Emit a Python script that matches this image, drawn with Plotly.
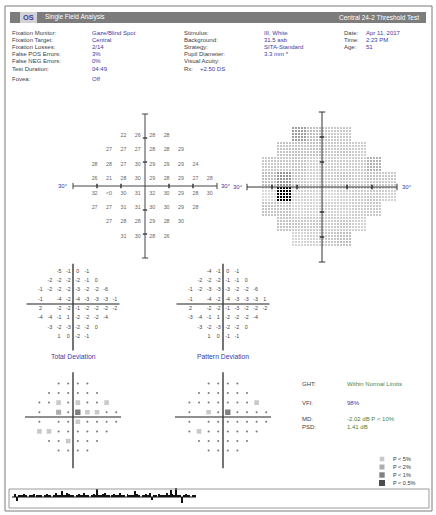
import plotly.graph_objects as go

W, H = 436, 515

# ---------------- data ----------------
GRID_Y = [21, 15, 9, 3, -3, -9, -15, -21]
GRID_X = [
    [-9, -3, 3, 9],
    [-15, -9, -3, 3, 9, 15],
    [-21, -15, -9, -3, 3, 9, 15, 21],
    [-21, -15, -9, -3, 3, 9, 15, 21, 27],
    [-21, -15, -9, -3, 3, 9, 15, 21, 27],
    [-21, -15, -9, -3, 3, 9, 15, 21],
    [-15, -9, -3, 3, 9, 15],
    [-9, -3, 3, 9],
]
THRESHOLD = [
    ["22", "26", "28", "28"],
    ["27", "27", "27", "28", "28", "29"],
    ["28", "28", "27", "30", "29", "29", "29", "24"],
    ["26", "21", "28", "30", "29", "28", "29", "27", "28"],
    ["32", "<0", "30", "31", "32", "30", "29", "28", "30"],
    ["27", "27", "31", "31", "30", "30", "29", "28"],
    ["27", "28", "28", "29", "28", "30"],
    ["31", "30", "28", "26"],
]
TOTAL_DEV = [
    [-5, -1, 0, -1],
    [-2, -2, -2, -2, -1, 0],
    [-1, -2, -2, -2, -3, -2, -2, -6],
    [-1, None, -4, -2, -4, -3, -3, -3, -1],
    [2, None, -2, -2, -1, -2, -2, -2, -2],
    [-4, -4, -1, 1, -2, -2, -2, -4],
    [-3, -2, -3, -2, -2, 0],
    [1, 0, -2, -1],
]
PATTERN_DEV = [
    [-4, -1, 0, -1],
    [-2, -2, -2, -1, -1, 0],
    [-1, -2, -3, -3, -3, -2, -2, -6],
    [-1, None, -4, -2, -4, -3, -3, -3, 1],
    [2, None, -2, -2, -1, -3, -2, -2, -2],
    [-3, -4, -1, 1, -2, -2, -2, -4],
    [-3, -2, -3, -2, -2, 0],
    [1, 0, -1, -1],
]
# 0 = normal, 1 = P<5%, 2 = P<2%, 3 = P<1%, 4 = P<0.5%, None = blind spot
TOTAL_PROB = [
    [0, 0, 0, 0],
    [0, 0, 0, 0, 0, 0],
    [0, 0, 1, 0, 1, 0, 0, 1],
    [0, None, 2, 0, 3, 1, 1, 0, 0],
    [0, None, 0, 0, 1, 0, 0, 0, 0],
    [1, 1, 0, 0, 0, 0, 0, 0],
    [0, 0, 1, 0, 0, 0],
    [0, 0, 0, 0],
]
PATTERN_PROB = [
    [0, 0, 0, 0],
    [0, 0, 0, 0, 0, 0],
    [0, 0, 0, 0, 0, 0, 0, 1],
    [0, None, 1, 0, 3, 0, 0, 0, 0],
    [0, None, 0, 0, 0, 0, 0, 0, 0],
    [0, 1, 0, 0, 0, 0, 0, 0],
    [0, 0, 0, 0, 0, 0],
    [0, 0, 0, 0],
]
PROB_LEVELS = [1, 2, 3, 4]
PROB_LABELS = ["P < 5%", "P < 2%", "P < 1%", "P < 0.5%"]
GAZE = [0, 3, -4, 2, 1, 2, 3, 1, 0, 2, 1, 3, 0, 2, 1, 2, 0, 1, 3, 2,
        1, 0, 2, 4, 1, 2, 5, 2, 1, 4, 3, 1, 2, 0, 1, 3, 2, 1, 4, 2,
        1, 0, 2, 3, 1, 7, 2, 1, 3, 4, 2, 1, 0, 2, 3, 1, 2, 4, 1, 2,
        0, 3, 2, 1, 2, 5, 3, 1, 0, 2, 1, 3, 2, 4, -3, 1, 2, 0, 3, 1,
        2, 1, 4, 2, 6, 3, 2, 8, 1, 2, -5, 1, 3, 2, 1, 0, 2, 1]

INFO_LEFT = [("Fixation Monitor:", "Gaze/Blind Spot"), ("Fixation Target:", "Central"),
             ("Fixation Losses:", "2/14"), ("False POS Errors:", "3%"),
             ("False NEG Errors:", "0%"), ("Test Duration:", "04:49"), ("Fovea:", "Off")]
INFO_MID = [("Stimulus:", "III, White"), ("Background:", "31.5 asb"), ("Strategy:", "SITA-Standard"),
            ("Pupil Diameter:", "3.3 mm *"), ("Visual Acuity:", ""), ("Rx:", "+2.50 DS")]
INFO_RIGHT = [("Date:", "Apr 11, 2017"), ("Time:", "2:23 PM"), ("Age:", "51")]
GLOBAL_IDX = [("GHT:", "Within Normal Limits"), ("VFI:", "98%"),
              ("MD:", "-2.02 dB P < 10%"), ("PSD:", "1.41 dB")]

# ---------------- helpers ----------------
BLUE = "#3b3ba6"
LABEL = "#404040"
GREEN = "#4d7f45"
FONT = "Liberation Sans, Arial, sans-serif"
SYMBOL_COLOR = {1: "#b2b2b2", 2: "#8a8a8a", 3: "#4a4a4a", 4: "#000000"}
SYMBOL_SIZE = {1: 4.6, 2: 5.0, 3: 5.4, 4: 6.0}


def flatten(rows):
    xs, ys, vs = [], [], []
    for yy, xr, vr in zip(GRID_Y, GRID_X, rows):
        for xx, v in zip(xr, vr):
            xs.append(xx)
            ys.append(yy)
            vs.append(v)
    return xs, ys, vs


def px(x):
    return x / W


def py(y):
    return 1 - y / H


PANELS = {  # axis index, centre x, centre y (px), px per degree, half range (deg)
    "thr": (1, 145, 186, 2.4, 33),
    "gray": (2, 322, 187, 2.5, 33),
    "td": (3, 73, 304, 1.55, 33),
    "pd": (4, 223, 304, 1.55, 33),
    "tdp": (5, 73, 417, 1.6, 33),
    "pdp": (6, 223, 417, 1.6, 33),
}


def refs(n):
    return ("x" if n == 1 else f"x{n}", "y" if n == 1 else f"y{n}")


fig = go.Figure()
layout_axes = {}
for key, (n, cx, cy, s, half) in PANELS.items():
    hx = s * half
    xa = "xaxis" if n == 1 else f"xaxis{n}"
    ya = "yaxis" if n == 1 else f"yaxis{n}"
    xr, yr = refs(n)
    layout_axes[xa] = dict(domain=[px(cx - hx), px(cx + hx)], range=[-half, half], visible=False,
                           fixedrange=True, anchor=yr)
    layout_axes[ya] = dict(domain=[py(cy + hx), py(cy - hx)], range=[-half, half], visible=False,
                           fixedrange=True, anchor=xr)
# gaze tracking axis
layout_axes["xaxis7"] = dict(domain=[px(12), px(196)], range=[-0.5, len(GAZE) - 0.5], visible=False,
                             fixedrange=True, anchor="y7")
layout_axes["yaxis7"] = dict(domain=[py(507), py(487)], range=[-9, 9], visible=False,
                             fixedrange=True, anchor="x7")
# legend of probability symbols
layout_axes["xaxis8"] = dict(domain=[px(377), px(387)], range=[-1, 1], visible=False,
                             fixedrange=True, anchor="y8")
layout_axes["yaxis8"] = dict(domain=[py(487), py(455)], range=[4.5, 0.5], visible=False,
                             fixedrange=True, anchor="x8")

shapes = []
annotations = []


def note(x, y, text, size, color, xanchor="center", family=FONT, xref="paper", yref="paper", xshift=0):
    annotations.append(dict(xref=xref, yref=yref, x=x, y=y, text=text, showarrow=False,
                            xanchor=xanchor, yanchor="middle", xshift=xshift,
                            font=dict(size=size, color=color, family=family)))


def cross(n, ch, wh, cv, wv, top=30, bottom=30, ticks=False, lab_l=3, lab_r=3):
    xr, yr = refs(n)
    shapes.append(dict(type="line", xref=xr, yref=yr, x0=-30, x1=30, y0=0, y1=0,
                       line=dict(color=ch, width=wh)))
    shapes.append(dict(type="line", xref=xr, yref=yr, x0=0, x1=0, y0=-bottom, y1=top,
                       line=dict(color=cv, width=wv)))
    if ticks:
        for t in (-20, -10, 10, 20):
            shapes.append(dict(type="line", xref=xr, yref=yr, x0=t, x1=t, y0=-0.9, y1=0.9,
                               line=dict(color=ch, width=1.6)))
            shapes.append(dict(type="line", xref=xr, yref=yr, x0=-0.9, x1=0.9, y0=t, y1=t,
                               line=dict(color=cv, width=1.6)))
        for t in (-30, 30):
            shapes.append(dict(type="line", xref=xr, yref=yr, x0=t, x1=t, y0=-1.3, y1=1.3,
                               line=dict(color=ch, width=1)))
        for t in (-bottom, top):
            shapes.append(dict(type="line", xref=xr, yref=yr, x0=-1.3, x1=1.3, y0=t, y1=t,
                               line=dict(color=cv, width=1)))
        note(-30, 0, "30°", 6, BLUE, xanchor="right", xref=xr, yref=yr, xshift=-lab_l)
        note(30, 0, "30°", 6, BLUE, xanchor="left", xref=xr, yref=yr, xshift=lab_r)


# ---------------- grayscale ----------------
gx, gy, gv = flatten(THRESHOLD)
SUB = 5
step = 6 / SUB
ncol = int(round((27 + 3 - (-21 - 3)) / step))
nrow = int(round((21 + 3 - (-21 - 3)) / step))
xs_g = [-24 + step / 2 + step * i for i in range(ncol)]
ys_g = [-24 + step / 2 + step * j for j in range(nrow)]
zg = [[None] * ncol for _ in range(nrow)]
for xx, yy, v in zip(gx, gy, gv):
    val = 0.0 if v.startswith("<") else float(v)
    c0 = int(round((xx - 3 + 24) / step))
    r0 = int(round((yy - 3 + 24) / step))
    for i in range(SUB):
        for j in range(SUB):
            zg[r0 + j][c0 + i] = val
fig.add_trace(go.Heatmap(
    x=xs_g, y=ys_g, z=zg, xaxis="x2", yaxis="y2", zmin=0, zmax=35, showscale=False,
    xgap=1, ygap=1, hoverinfo="skip",
    colorscale=[[0, "#000000"], [0.3, "#333333"], [0.6, "#939393"], [0.69, "#b4b4b4"],
                [0.77, "#c4c4c4"], [0.83, "#cdcdcd"], [0.89, "#d6d6d6"], [1, "#e6e6e6"]]))
cross(2, "#333", 1, "#333", 1, ticks=True, lab_l=2)

# ---------------- threshold numbers ----------------
fig.add_trace(go.Scatter(x=gx, y=gy, text=gv, mode="text", xaxis="x", yaxis="y",
                         textfont=dict(size=5.3, color="#666", family=FONT), hoverinfo="skip"))
cross(1, "#444", 1, "#444", 1, ticks=True, lab_r=2)

# ---------------- deviation numbers ----------------
for rows, n in ((TOTAL_DEV, 3), (PATTERN_DEV, 4)):
    xs, ys, vs = flatten(rows)
    keep = [(a, b, c) for a, b, c in zip(xs, ys, vs) if c is not None]
    xr, yr = refs(n)
    fig.add_trace(go.Scatter(x=[k[0] for k in keep], y=[k[1] for k in keep],
                             text=[str(k[2]) for k in keep], mode="text", xaxis=xr, yaxis=yr,
                             textfont=dict(size=5.3, color="#444", family=FONT), hoverinfo="skip"))
    cross(n, "#8f8f8f", 2.2, "#3a3a3a", 1.4, top=26, bottom=30)

note(px(73), py(356), "Total Deviation", 6.8, BLUE)
note(px(223), py(356), "Pattern Deviation", 6.8, BLUE)

# ---------------- probability plots ----------------
for rows, n in ((TOTAL_PROB, 5), (PATTERN_PROB, 6)):
    xs, ys, vs = flatten(rows)
    xr, yr = refs(n)
    nx = [a for a, c in zip(xs, vs) if c == 0]
    ny = [b for b, c in zip(ys, vs) if c == 0]
    fig.add_trace(go.Scatter(x=nx, y=ny, mode="markers", xaxis=xr, yaxis=yr,
                             marker=dict(size=2, color="#777"), hoverinfo="skip"))
    ax = [a for a, c in zip(xs, vs) if c]
    ay = [b for b, c in zip(ys, vs) if c]
    ac = [SYMBOL_COLOR[c] for c in vs if c]
    az = [SYMBOL_SIZE[c] for c in vs if c]
    fig.add_trace(go.Scatter(x=ax, y=ay, mode="markers", xaxis=xr, yaxis=yr,
                             marker=dict(symbol="square", size=az, color=ac, line=dict(width=0)),
                             hoverinfo="skip"))
    cross(n, "#8f8f8f", 2.2, "#3a3a3a", 1.4, top=28, bottom=32)

# legend of probability symbols
fig.add_trace(go.Scatter(x=[0] * len(PROB_LEVELS), y=PROB_LEVELS, mode="markers", xaxis="x8", yaxis="y8",
                         marker=dict(symbol="square", size=[SYMBOL_SIZE[c] for c in PROB_LEVELS],
                                     color=[SYMBOL_COLOR[c] for c in PROB_LEVELS], line=dict(width=0)),
                         hoverinfo="skip"))
for lvl, lab in zip(PROB_LEVELS, PROB_LABELS):
    note(1, lvl, lab, 5.5, "#333", xanchor="left", xref="x8", yref="y8", xshift=4)

# ---------------- gaze tracking ----------------
fig.add_trace(go.Bar(x=list(range(len(GAZE))), y=GAZE, xaxis="x7", yaxis="y7", width=0.5,
                     marker=dict(color="#111", line=dict(width=0)), hoverinfo="skip"))
shapes.append(dict(type="line", xref="x7", yref="y7", x0=-0.5, x1=len(GAZE) - 0.5, y0=0, y1=0,
                   line=dict(color="#111", width=1)))
shapes.append(dict(type="rect", xref="paper", yref="paper", x0=px(9), x1=px(429), y0=py(508), y1=py(489),
                   line=dict(color="#9a9a9a", width=1)))

# ---------------- page frame and header ----------------
shapes.append(dict(type="rect", xref="paper", yref="paper", x0=px(5), x1=px(432), y0=py(511), y1=py(6),
                   line=dict(color="#7a7a7a", width=1), layer="below"))
shapes.append(dict(type="rect", xref="paper", yref="paper", x0=px(10), x1=px(426), y0=py(23), y1=py(12),
                   fillcolor="#7c7c7c", line=dict(width=0), layer="below"))
shapes.append(dict(type="rect", xref="paper", yref="paper", x0=px(20), x1=px(37), y0=py(23), y1=py(12),
                   fillcolor="#d2d2d2", line=dict(width=0), layer="below"))
note(px(28.5), py(17.5), "<b>OS</b>", 7.5, BLUE)
note(px(43), py(17.5), "Single Field Analysis", 6.5, "white", xanchor="left")
note(px(421), py(17.5), "Central 24-2 Threshold Test", 6.5, "white", xanchor="right")


def info(x_lab, x_val, y, lab, val, vcolor=BLUE, size=6):
    note(px(x_lab), py(y), lab, size, LABEL, xanchor="left")
    if val:
        note(px(x_val), py(y), val, size, vcolor, xanchor="left")


ROW0, DY = 33, 7.1
for i, (lab, val) in enumerate(INFO_LEFT):
    yy = ROW0 + i * DY + (3 if i == 6 else 0)
    info(10, 90, yy, lab, val)
for i, (lab, val) in enumerate(INFO_MID):
    info(182, 198 if lab == "Rx:" else 262, ROW0 + i * DY, lab, val)
for i, (lab, val) in enumerate(INFO_RIGHT):
    info(342, 364, ROW0 + i * DY, lab, val)

GLOBAL_Y = [384, 403, 419, 427]
GLOBAL_C = [GREEN, BLUE, GREEN, GREEN]
for (lab, val), yy, col in zip(GLOBAL_IDX, GLOBAL_Y, GLOBAL_C):
    info(300, 345, yy, lab, val, vcolor=col, size=6)

fig.update_layout(
    width=W, height=H, margin=dict(l=0, r=0, t=0, b=0),
    paper_bgcolor="white", plot_bgcolor="rgba(0,0,0,0)",
    showlegend=False, shapes=shapes, annotations=annotations, bargap=0,
    **layout_axes,
)
fig.write_html("out.html", config={"displayModeBar": False},
               post_script="document.body.style.margin='0px';document.body.style.overflow='hidden';")
